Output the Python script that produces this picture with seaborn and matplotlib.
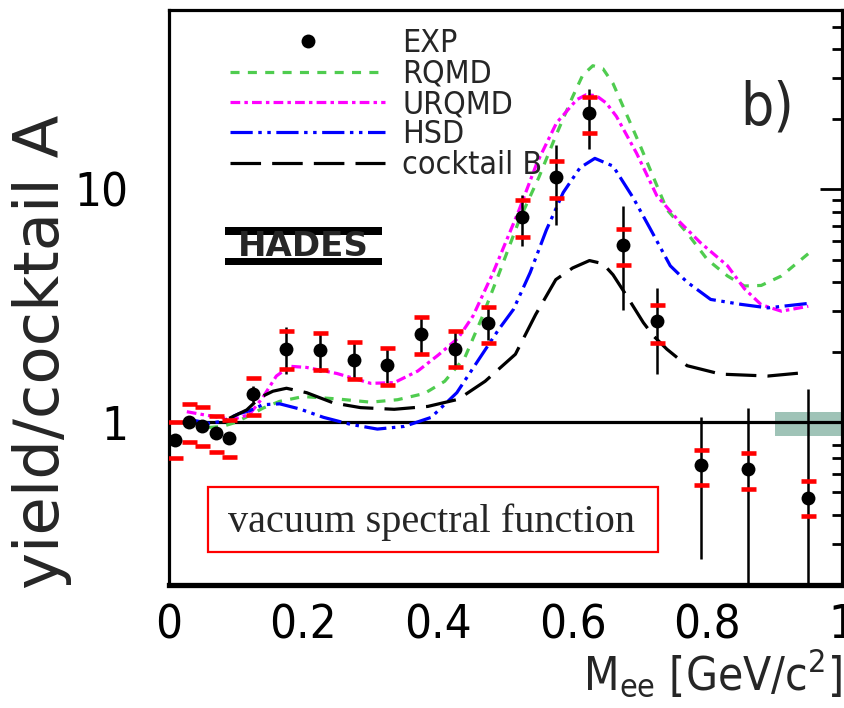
import numpy as np
import matplotlib
matplotlib.use('Agg')
import matplotlib.pyplot as plt
import matplotlib.ticker as mticker
from matplotlib import font_manager
from matplotlib.patches import Rectangle
import seaborn as sns

# ---- values ----
# experimental points: mass bin centre, ratio, stat. range, syst. range
exp_x = [0.01, 0.03, 0.05, 0.07, 0.09, 0.125, 0.175, 0.225, 0.275, 0.325, 0.375,
         0.425, 0.475, 0.525, 0.575, 0.625, 0.675, 0.725, 0.79, 0.86, 0.95]
exp_y = [0.84, 1.00, 0.96, 0.90, 0.86, 1.32, 2.07, 2.04, 1.86, 1.77, 2.39,
         2.07, 2.66, 7.64, 11.3, 21.3, 5.8, 2.72, 0.656, 0.628, 0.475]
stat_lo = [0.80, 0.96, 0.92, 0.86, 0.82, 1.22, 1.61, 1.65, 1.55, 1.47, 1.96,
           1.72, 2.25, 5.7, 7.06, 14.9, 3.05, 1.61, 0.258, 0.15, 0.15]
stat_hi = [0.88, 1.04, 1.00, 0.94, 0.90, 1.43, 2.56, 2.45, 2.20, 2.08, 2.84,
           2.47, 3.10, 9.5, 15.5, 27.0, 8.45, 3.79, 1.05, 1.156, 1.395]
sys_lo = [0.70, 0.82, 0.79, 0.746, 0.71, 1.08, 1.70, 1.67, 1.53, 1.445, 1.96,
          1.72, 2.20, 6.26, 9.21, 17.5, 4.72, 2.20, 0.54, 0.516, 0.394]
sys_hi = [1.00, 1.195, 1.16, 1.064, 1.02, 1.555, 2.47, 2.43, 2.21, 2.09, 2.84,
          2.47, 3.12, 9.0, 13.2, 25.0, 6.74, 3.18, 0.76, 0.741, 0.56]

rqmd_x = [0.06, 0.08, 0.10, 0.12, 0.14, 0.165, 0.20, 0.25, 0.30, 0.34, 0.38, 0.41,
          0.44, 0.465, 0.49, 0.52, 0.55, 0.575, 0.60, 0.615, 0.63, 0.645, 0.66,
          0.685, 0.70, 0.74, 0.77, 0.80, 0.83, 0.855, 0.88, 0.91, 0.95]
rqmd_y = [0.95, 0.96, 1.00, 1.07, 1.15, 1.23, 1.29, 1.26, 1.22, 1.25, 1.33, 1.50,
          1.90, 2.8, 4.3, 7.3, 11.3, 17.0, 25.0, 31.0, 34.0, 33.0, 28.5,
          19.5, 15.5, 8.2, 6.5, 5.0, 4.25, 3.85, 3.87, 4.25, 5.3]

urqmd_x = [0.027, 0.05, 0.075, 0.096, 0.12, 0.14, 0.16, 0.18, 0.205, 0.25, 0.30,
           0.335, 0.37, 0.40, 0.43, 0.452, 0.482, 0.52, 0.547, 0.576, 0.606,
           0.62, 0.635, 0.65, 0.665, 0.695, 0.725, 0.76, 0.79, 0.83, 0.855,
           0.88, 0.91, 0.95]
urqmd_y = [1.11, 1.08, 1.05, 1.03, 1.08, 1.28, 1.58, 1.74, 1.72, 1.62, 1.47,
           1.48, 1.66, 1.94, 2.3, 2.86, 4.4, 8.1, 13.0, 19.3, 24.3,
           25.5, 25.3, 23.5, 20.6, 14.3, 9.4, 7.2, 5.9, 4.7, 3.75,
           3.2, 3.0, 3.15]

hsd_x = [0.029, 0.06, 0.08, 0.105, 0.12, 0.14, 0.165, 0.195, 0.23, 0.27, 0.31,
         0.35, 0.39, 0.428, 0.46, 0.49, 0.512, 0.537, 0.561, 0.586, 0.611, 0.633,
         0.66, 0.69, 0.715, 0.745, 0.77, 0.805, 0.85, 0.89, 0.95]
hsd_y = [1.03, 0.99, 1.01, 1.09, 1.12, 1.19, 1.20, 1.14, 1.05, 0.98, 0.935,
         0.96, 1.05, 1.34, 1.85, 2.5, 3.05, 4.4, 6.7, 9.7, 12.4, 13.6,
         12.6, 9.2, 6.8, 4.7, 4.0, 3.37, 3.21, 3.10, 3.24]

cockb_x = [0.09, 0.116, 0.136, 0.155, 0.175, 0.205, 0.245, 0.285, 0.335, 0.385,
           0.43, 0.47, 0.515, 0.545, 0.575, 0.60, 0.625, 0.645, 0.66, 0.68,
           0.705, 0.72, 0.74, 0.77, 0.82, 0.89, 0.95]
cockb_y = [1.04, 1.13, 1.28, 1.36, 1.40, 1.34, 1.21, 1.156, 1.137, 1.17,
           1.255, 1.50, 1.96, 2.9, 4.1, 4.6, 4.95, 4.8, 4.3, 3.5,
           2.68, 2.35, 2.06, 1.75, 1.61, 1.58, 1.64]

# normalisation uncertainty band at the right edge
band_x = [0.9, 1.0]
band_lo = [0.87, 0.87]
band_hi = [1.105, 1.105]

x_ticks = [0, 0.2, 0.4, 0.6, 0.8, 1.0]
x_ticklabels = ['0', '0.2', '0.4', '0.6', '0.8', '1']
y_ticks = [1, 10]
y_ticklabels = ['1', '10']

# ---- style ----
sns.set_style('white')

# the lettering in the original is tall and thin, so use a narrow face if present
narrow = None
for f in font_manager.fontManager.ttflist:
    p = f.fname.lower()
    if 'sans' in p and ('narrow' in p or 'condensed' in p) and not any(
            s in p for s in ('mono', 'bold', 'oblique', 'italic')):
        narrow = f
        break
if narrow is not None:
    plt.rcParams['font.family'] = [narrow.name, 'DejaVu Sans']
    plt.rcParams['font.stretch'] = narrow.stretch
    k = 1.0
else:
    plt.rcParams['font.family'] = ['Liberation Sans', 'DejaVu Sans']
    k = 0.92
plt.rcParams['mathtext.default'] = 'regular'
plt.rcParams['lines.scale_dashes'] = False

fig = plt.figure(figsize=(8.44, 7.08), dpi=100)
ax = fig.add_axes([0.1998, 0.1737, 0.7978, 0.8122])

# band + unity line
ax.fill_between(band_x, band_lo, band_hi, color='#9fc3b7', lw=0, zorder=1)
ax.axhline(1.0, color='black', lw=2.3, zorder=2)

# model curves
curves = [
    (rqmd_x, rqmd_y, '#4fcc4f', (0, (6.5, 6.0)), 'RQMD'),
    (urqmd_x, urqmd_y, '#ff00ff', (0, (7.0, 3.0, 2.5, 3.0)), 'URQMD'),
    (hsd_x, hsd_y, '#0000ff', (0, (16.0, 4.0, 2.5, 4.0, 2.5, 4.0)), 'HSD'),
    (cockb_x, cockb_y, 'black', (0, (22.0, 8.0)), 'cocktail B'),
]
line_handles = []
for cx, cy, col, ls, lab in curves:
    sns.lineplot(x=cx, y=cy, color=col, linewidth=2.3, linestyle=ls, label=lab,
                 sort=False, estimator=None, ax=ax, zorder=3)
    line_handles.append(ax.lines[-1])

# data: stat. error bars, syst. markers, points
ex = np.array(exp_x)
ey = np.array(exp_y)
ax.errorbar(ex, ey, yerr=[ey - np.array(stat_lo), np.array(stat_hi) - ey],
            fmt='none', ecolor='black', elinewidth=1.8, capsize=0, zorder=4)
sns.scatterplot(x=exp_x + exp_x, y=sys_lo + sys_hi, marker='_', color='red',
                s=(15 * 0.72) ** 2, linewidth=3.3, ax=ax, zorder=5, legend=False)
sns.scatterplot(x=exp_x, y=exp_y, marker='o', color='black', edgecolor='black',
                s=100, linewidth=0, ax=ax, zorder=6, label='EXP')
exp_handle = ax.collections[-1]

# axes
ax.set_yscale('log')
ax.set_xlim(0, 1.0)
ax.set_ylim(0.2, 59)
ax.set_xticks(x_ticks, labels=x_ticklabels)
ax.xaxis.set_minor_locator(mticker.MultipleLocator(0.05))
ax.set_yticks(y_ticks, labels=y_ticklabels)
ax.yaxis.set_minor_locator(mticker.LogLocator(base=10, subs=np.arange(2, 10)))
ax.yaxis.set_minor_formatter(mticker.NullFormatter())

ax.tick_params(axis='both', which='both', direction='in', colors='black',
               top=False, right=True)
ax.tick_params(axis='y', which='major', length=16, width=2, pad=29,
               labelsize=34 * k)
ax.tick_params(axis='y', which='minor', length=7.5, width=2)
ax.tick_params(axis='x', which='major', length=10, width=2, pad=13,
               labelsize=34 * k)
ax.tick_params(axis='x', which='minor', length=5, width=2)
for side, w in (('left', 2.3), ('right', 2.3), ('top', 2.3), ('bottom', 3.8)):
    ax.spines[side].set_visible(True)
    ax.spines[side].set_color('black')
    ax.spines[side].set_linewidth(w)

ax.set_ylabel('yield/cocktail A', fontsize=45, family='DejaVu Sans',
              stretch='normal')
ax.yaxis.set_label_coords(-0.143, 0.405)
ax.set_xlabel('M$_{ee}$ [GeV/c$^{2}$]', fontsize=33 * k, ha='right')
ax.xaxis.set_label_coords(1.0, -0.108)

# legend
fs = 23 * k
ax.legend(handles=[exp_handle] + line_handles,
          labels=['EXP', 'RQMD', 'URQMD', 'HSD', 'cocktail B'],
          loc='upper left', bbox_to_anchor=(0.091, 0.968), frameon=False,
          fontsize=fs, handlelength=112 / fs, handletextpad=12 / fs,
          labelspacing=-0.02, borderpad=0, borderaxespad=0,
          scatterpoints=1, scatteryoffsets=[0.5])

# panel tag
ax.text(0.849, 0.80, 'b)', transform=ax.transAxes, fontsize=42 * k,
        ha='left', va='baseline')

# HADES logo: bars above and below the name
ax.add_patch(Rectangle((0.084, 0.6087), 0.233, 0.0139, transform=ax.transAxes,
                       color='black', lw=0, zorder=6))
ax.add_patch(Rectangle((0.084, 0.5565), 0.233, 0.0122, transform=ax.transAxes,
                       color='black', lw=0, zorder=6))
ax.text(0.2005, 0.5885, 'HADES', transform=ax.transAxes, fontsize=24.5,
        family='DejaVu Sans', stretch='normal', fontweight='heavy',
        ha='center', va='center', zorder=6)

# boxed note
ax.add_patch(Rectangle((0.0585, 0.0574), 0.668, 0.113, transform=ax.transAxes,
                       fill=False, edgecolor='red', lw=1.6, zorder=6))
ax.text(0.088, 0.093, 'vacuum spectral function', transform=ax.transAxes,
        fontsize=29, family='Liberation Serif', stretch='normal',
        ha='left', va='baseline', zorder=6)

fig.savefig('out.png', dpi=100, facecolor='white')
